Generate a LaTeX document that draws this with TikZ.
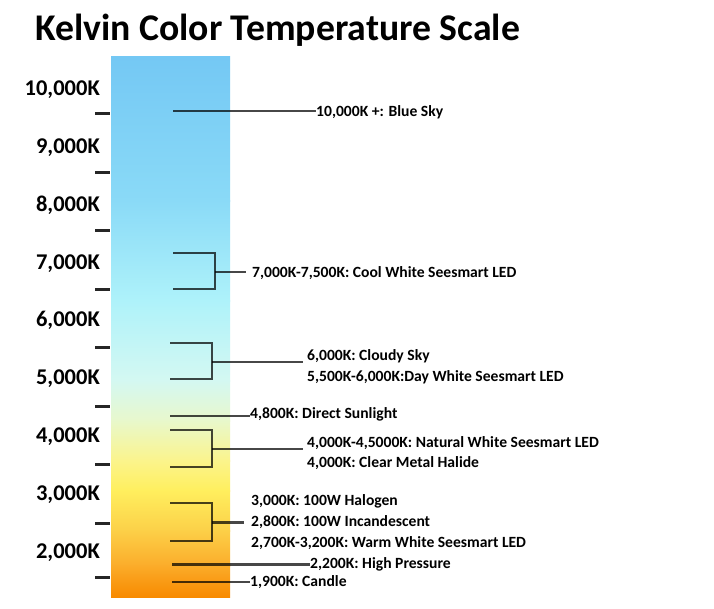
\documentclass[tikz,border=0pt]{standalone}
\usepackage{fontspec}
\setmainfont{Carlito}
\definecolor{c0}{HTML}{74C8F4}
\definecolor{c1}{HTML}{8ADAF7}
\definecolor{c2}{HTML}{AEF2FA}
\definecolor{c3}{HTML}{D4F8F2}
\definecolor{c4}{HTML}{E8F8CC}
\definecolor{c5}{HTML}{FBF48C}
\definecolor{c6}{HTML}{FFEF5E}
\definecolor{c7}{HTML}{FCD048}
\definecolor{c8}{HTML}{FBAC2A}
\definecolor{c9}{HTML}{F88A00}
\begin{document}
\begin{tikzpicture}[x=1pt,y=-1pt,
  tickmark/.style={line width=3pt,black!85},
  lead/.style={line width=2.2pt,draw=black,draw opacity=0.72},
  axislbl/.style={font=\bfseries\fontsize{22.5}{24}\selectfont,anchor=east,inner sep=0pt,text height=14.5pt,text depth=0pt},
  note/.style={font=\bfseries\fontsize{15.6}{17}\selectfont,anchor=west,inner sep=0pt,text height=10pt,text depth=0pt},
  titlefont/.style={font=\bfseries\fontsize{37.7}{42}\selectfont,anchor=base west,inner sep=0pt}]
\useasboundingbox (0,0) rectangle (714,608);
\fill[white] (0,0) rectangle (714,608);
% bar
\shade[top color=c0,bottom color=c1] (111,56) rectangle (230,201);
\shade[top color=c1,bottom color=c2] (111,200) rectangle (230,301);
\shade[top color=c2,bottom color=c3] (111,300) rectangle (230,381);
\shade[top color=c3,bottom color=c4] (111,380) rectangle (230,421);
\shade[top color=c4,bottom color=c5] (111,420) rectangle (230,461);
\shade[top color=c5,bottom color=c6] (111,460) rectangle (230,491);
\shade[top color=c6,bottom color=c7] (111,490) rectangle (230,531);
\shade[top color=c7,bottom color=c8] (111,530) rectangle (230,566);
\shade[top color=c8,bottom color=c9] (111,565) rectangle (230,597);
% title
\node[titlefont] (title) at (35,40) {Kelvin Color Temperature Scale};
% axis
\foreach \yy in {113.5,172,230.5,289,347,406,464.5,523,577.5}
  \draw[tickmark] (95,\yy) -- (110,\yy);
\node[axislbl] (k10) at (100,88) {10,000K};
\node[axislbl] (k9) at (100,146) {9,000K};
\node[axislbl] (k8) at (100,204) {8,000K};
\node[axislbl] (k7) at (100,262) {7,000K};
\node[axislbl] (k6) at (100,319.5) {6,000K};
\node[axislbl] (k5) at (100,377) {5,000K};
\node[axislbl] (k4) at (100,435) {4,000K};
\node[axislbl] (k3) at (100,493) {3,000K};
\node[axislbl] (k2) at (100,551) {2,000K};
% notes
\node[note] (sky) at (316,111) {10,000K +: Blue Sky};
\node[note] (cool) at (252,272) {7,000K-7,500K: Cool White Seesmart LED};
\node[note] (cloudy) at (307,355) {6,000K: Cloudy Sky};
\node[note] (day) at (307,376) {5,500K-6,000K:Day White Seesmart LED};
\node[note] (sun) at (250,413) {4,800K: Direct Sunlight};
\node[note] (natural) at (307,442) {4,000K-4,5000K: Natural White Seesmart LED};
\node[note] (halide) at (307,462) {4,000K: Clear Metal Halide};
\node[note] (halogen) at (251,500) {3,000K: 100W Halogen};
\node[note] (incand) at (251,521) {2,800K: 100W Incandescent};
\node[note] (warm) at (251,542) {2,700K-3,200K: Warm White Seesmart LED};
\node[note] (hp) at (310,563.5) {2,200K: High Pressure};
\node[note] (candle) at (250,581.5) {1,900K: Candle};
% connector points
\coordinate (skyA) at (173,111);
\coordinate (b1t) at (173,253);
\coordinate (b1b) at (173,289);
\coordinate (b1m) at (215,272);
\coordinate (b1e) at (246,272);
\coordinate (b2t) at (170,343);
\coordinate (b2b) at (170,379);
\coordinate (b2m) at (212,362);
\coordinate (b2e) at (303,362);
\coordinate (sunA) at (170,416);
\coordinate (b3t) at (170,430);
\coordinate (b3b) at (170,467);
\coordinate (b3m) at (212,449);
\coordinate (b3e) at (303,449);
\coordinate (b4t) at (170,503);
\coordinate (b4b) at (170,541);
\coordinate (b4m) at (212,522.5);
\coordinate (b4e) at (244,522.5);
\coordinate (hpA) at (172,564.5);
\coordinate (caA) at (172,582);
% connectors
\draw[lead] (skyA) -- (sky.west);
\draw[lead] (b1t) -| (b1m) |- (b1b);
\draw[lead] (b1m) -- (b1e);
\draw[lead] (b2t) -| (b2m) |- (b2b);
\draw[lead] (b2m) -- (b2e);
\draw[lead] (sunA) -- (sunA -| sun.west);
\draw[lead] (b3t) -| (b3m) |- (b3b);
\draw[lead] (b3m) -- (b3e);
\draw[lead] (b4t) -| (b4m) |- (b4b);
\draw[lead] (b4m) -- (b4e);
\draw[lead] (hpA) -- (hpA -| hp.west);
\draw[lead] (caA) -- (caA -| candle.west);
\end{tikzpicture}
\end{document}
